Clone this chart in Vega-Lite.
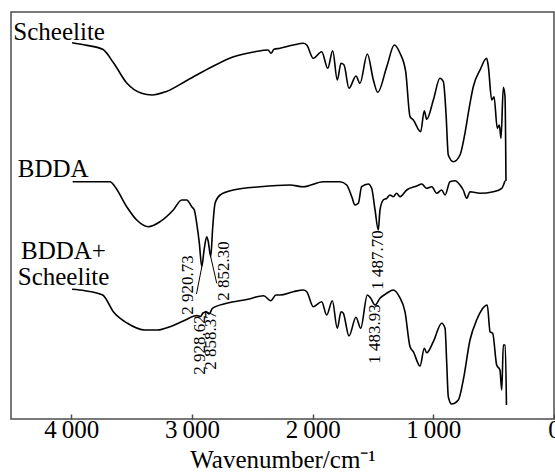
{
  "$schema": "https://vega.github.io/schema/vega-lite/v6.json",
  "width": 543,
  "height": 407,
  "autosize": {"type": "none"},
  "padding": {"left": 11, "top": 12, "right": 1, "bottom": 53},
  "background": "white",
  "config": {
    "view": {"stroke": "#4d4d4d", "strokeWidth": 1.5},
    "font": "Liberation Serif"
  },
  "datasets": {
    "curves": [
      {"s":"A","w":3994,"v":376.3},{"s":"A","w":3887,"v":374},{"s":"A","w":3740,"v":369.7},{"s":"A","w":3648,"v":355.7},{"s":"A","w":3539,"v":335.7},{"s":"A","w":3418,"v":325.7},{"s":"A","w":3331,"v":324},{"s":"A","w":3217,"v":327.3},{"s":"A","w":3036,"v":339},{"s":"A","w":2834,"v":352.3},{"s":"A","w":2655,"v":362.3},{"s":"A","w":2478,"v":367.3},{"s":"A","w":2370,"v":369},{"s":"A","w":2345,"v":365.7},{"s":"A","w":2321,"v":369.7},{"s":"A","w":2271,"v":370.7},{"s":"A","w":2160,"v":374},{"s":"A","w":2078,"v":375.7},{"s":"A","w":2049,"v":374},{"s":"A","w":1995,"v":360.7},{"s":"A","w":1925,"v":367.3},{"s":"A","w":1875,"v":350.7},{"s":"A","w":1834,"v":368.3},{"s":"A","w":1796,"v":339},{"s":"A","w":1765,"v":355.7},{"s":"A","w":1740,"v":354},{"s":"A","w":1699,"v":330.7},{"s":"A","w":1641,"v":343},{"s":"A","w":1608,"v":335.7},{"s":"A","w":1547,"v":365},{"s":"A","w":1497,"v":339},{"s":"A","w":1461,"v":326.7},{"s":"A","w":1386,"v":352.3},{"s":"A","w":1323,"v":374},{"s":"A","w":1276,"v":365.7},{"s":"A","w":1229,"v":347.3},{"s":"A","w":1193,"v":302.3},{"s":"A","w":1166,"v":299},{"s":"A","w":1105,"v":287.3},{"s":"A","w":1075,"v":308.3},{"s":"A","w":1055,"v":299.7},{"s":"A","w":1000,"v":319},{"s":"A","w":945,"v":340.7},{"s":"A","w":917,"v":337.3},{"s":"A","w":895,"v":305.7},{"s":"A","w":876,"v":264},{"s":"A","w":834,"v":257.3},{"s":"A","w":779,"v":264},{"s":"A","w":738,"v":285.7},{"s":"A","w":702,"v":311.7},{"s":"A","w":669,"v":332.3},{"s":"A","w":613,"v":349},{"s":"A","w":558,"v":360.7},{"s":"A","w":544,"v":352.3},{"s":"A","w":516,"v":319},{"s":"A","w":497,"v":322.3},{"s":"A","w":470,"v":290.7},{"s":"A","w":453,"v":294},{"s":"A","w":439,"v":280.7},{"s":"A","w":420,"v":331.7},{"s":"A","w":406,"v":322.3},{"s":"A","w":398,"v":238},
      {"s":"B","w":3989,"v":237.3},{"s":"B","w":3679,"v":237.3},{"s":"B","w":3638,"v":232.3},{"s":"B","w":3541,"v":212.3},{"s":"B","w":3458,"v":199},{"s":"B","w":3362,"v":192.3},{"s":"B","w":3265,"v":197.3},{"s":"B","w":3155,"v":209},{"s":"B","w":3085,"v":219},{"s":"B","w":3044,"v":219},{"s":"B","w":3002,"v":212.3},{"s":"B","w":2981,"v":209},{"s":"B","w":2961,"v":195.7},{"s":"B","w":2939,"v":175.7},{"s":"B","w":2919,"v":152.3},{"s":"B","w":2900,"v":169},{"s":"B","w":2878,"v":182.3},{"s":"B","w":2865,"v":177.3},{"s":"B","w":2845,"v":162.3},{"s":"B","w":2828,"v":192.3},{"s":"B","w":2809,"v":215.7},{"s":"B","w":2767,"v":224},{"s":"B","w":2658,"v":229},{"s":"B","w":2436,"v":232.3},{"s":"B","w":2188,"v":234},{"s":"B","w":2078,"v":232.3},{"s":"B","w":1912,"v":237.3},{"s":"B","w":1773,"v":237.3},{"s":"B","w":1718,"v":234},{"s":"B","w":1676,"v":222.3},{"s":"B","w":1649,"v":214},{"s":"B","w":1622,"v":215.7},{"s":"B","w":1594,"v":232.3},{"s":"B","w":1539,"v":235},{"s":"B","w":1511,"v":230.7},{"s":"B","w":1483,"v":209},{"s":"B","w":1456,"v":189},{"s":"B","w":1442,"v":209},{"s":"B","w":1415,"v":219},{"s":"B","w":1386,"v":220.7},{"s":"B","w":1359,"v":224},{"s":"B","w":1332,"v":222.3},{"s":"B","w":1304,"v":225.7},{"s":"B","w":1276,"v":222.3},{"s":"B","w":1221,"v":229},{"s":"B","w":1138,"v":233},{"s":"B","w":1096,"v":235},{"s":"B","w":1055,"v":230.7},{"s":"B","w":1013,"v":232.3},{"s":"B","w":972,"v":225.7},{"s":"B","w":931,"v":229},{"s":"B","w":903,"v":224},{"s":"B","w":862,"v":237.3},{"s":"B","w":820,"v":238.3},{"s":"B","w":779,"v":234},{"s":"B","w":752,"v":229},{"s":"B","w":723,"v":220.7},{"s":"B","w":696,"v":227.3},{"s":"B","w":613,"v":225.7},{"s":"B","w":503,"v":227.3},{"s":"B","w":433,"v":230.7},{"s":"B","w":406,"v":238.3},
      {"s":"C","w":3994,"v":129.7},{"s":"C","w":3887,"v":128.3},{"s":"C","w":3740,"v":124},{"s":"C","w":3652,"v":107.3},{"s":"C","w":3535,"v":95.7},{"s":"C","w":3389,"v":89},{"s":"C","w":3286,"v":89},{"s":"C","w":3182,"v":92.3},{"s":"C","w":3068,"v":98.3},{"s":"C","w":2958,"v":103.5},{"s":"C","w":2929,"v":102.5},{"s":"C","w":2909,"v":106},{"s":"C","w":2884,"v":107},{"s":"C","w":2858,"v":105},{"s":"C","w":2831,"v":110.7},{"s":"C","w":2714,"v":115.7},{"s":"C","w":2537,"v":119.7},{"s":"C","w":2406,"v":123.3},{"s":"C","w":2347,"v":118.3},{"s":"C","w":2304,"v":124},{"s":"C","w":2271,"v":124},{"s":"C","w":2160,"v":127.3},{"s":"C","w":2078,"v":129},{"s":"C","w":2049,"v":127.3},{"s":"C","w":1995,"v":112.3},{"s":"C","w":1925,"v":117.3},{"s":"C","w":1884,"v":104},{"s":"C","w":1837,"v":118.3},{"s":"C","w":1796,"v":90.7},{"s":"C","w":1765,"v":107.3},{"s":"C","w":1746,"v":105.7},{"s":"C","w":1699,"v":83},{"s":"C","w":1641,"v":101.7},{"s":"C","w":1602,"v":90.7},{"s":"C","w":1547,"v":124},{"s":"C","w":1519,"v":120.7},{"s":"C","w":1483,"v":114},{"s":"C","w":1442,"v":120.7},{"s":"C","w":1386,"v":125.7},{"s":"C","w":1332,"v":129},{"s":"C","w":1282,"v":122.3},{"s":"C","w":1235,"v":107.3},{"s":"C","w":1193,"v":72.3},{"s":"C","w":1166,"v":67.3},{"s":"C","w":1110,"v":53},{"s":"C","w":1075,"v":70.7},{"s":"C","w":1055,"v":66.3},{"s":"C","w":1000,"v":77.3},{"s":"C","w":931,"v":95.7},{"s":"C","w":903,"v":90.7},{"s":"C","w":889,"v":55.7},{"s":"C","w":876,"v":22.3},{"s":"C","w":848,"v":15},{"s":"C","w":793,"v":19},{"s":"C","w":752,"v":39},{"s":"C","w":696,"v":79},{"s":"C","w":641,"v":99},{"s":"C","w":553,"v":114},{"s":"C","w":530,"v":87.3},{"s":"C","w":508,"v":85.7},{"s":"C","w":475,"v":54},{"s":"C","w":448,"v":49},{"s":"C","w":433,"v":29},{"s":"C","w":420,"v":74},{"s":"C","w":404,"v":74},{"s":"C","w":394,"v":14}
    ],
    "names": [
      {"t":"Scheelite","w":4481,"v":379},
      {"t":"BDDA","w":4444,"v":242.3},
      {"t":"BDDA+","w":4417,"v":160},
      {"t":"Scheelite","w":4444,"v":134}
    ],
    "peaks": [
      {"t":"2 920.73","w":3033,"v":134},
      {"t":"2 852.30","w":2735,"v":148},
      {"t":"1 487.70","w":1459,"v":159},
      {"t":"2 928.62","w":2934,"v":74},
      {"t":"2 858.37","w":2842,"v":79},
      {"t":"1 483.93","w":1483,"v":85}
    ],
    "leaders": [
      {"w":2919,"v":152,"w2":2963,"v2":125},
      {"w":2845,"v":162.3,"w2":2795,"v2":135.7}
    ]
  },
  "layer": [
    {
      "data": {"name": "curves"},
      "mark": {"type": "line", "color": "black", "strokeWidth": 1.6, "strokeJoin": "round", "interpolate": "monotone"},
      "encoding": {
        "x": {
          "field": "w", "type": "quantitative",
          "scale": {"domain": [4500, 0], "nice": false, "zero": false},
          "axis": {
            "values": [4000, 3000, 2000, 1000, 0],
            "labelExpr": "replace(format(datum.value, ','), ',', '\u2009')",
            "grid": false, "domain": false,
            "tickSize": -5, "tickColor": "#4d4d4d", "tickWidth": 1.5,
            "labelFont": "Liberation Serif", "labelFontSize": 25, "labelColor": "black",
            "labelPadding": 3, "labelFlush": false, "labelOverlap": false,
            "title": "Wavenumber/cm\u207b\u00b9",
            "titleFont": "Liberation Serif", "titleFontSize": 25, "titleFontWeight": "normal",
            "titleColor": "black", "titlePadding": 5
          }
        },
        "y": {
          "field": "v", "type": "quantitative",
          "scale": {"domain": [0, 407], "nice": false, "zero": false},
          "axis": null
        },
        "detail": {"field": "s", "type": "nominal"}
      }
    },
    {
      "data": {"name": "leaders"},
      "mark": {"type": "rule", "color": "black", "strokeWidth": 1},
      "encoding": {
        "x": {"field": "w", "type": "quantitative"},
        "y": {"field": "v", "type": "quantitative"},
        "x2": {"field": "w2"},
        "y2": {"field": "v2"}
      }
    },
    {
      "data": {"name": "names"},
      "mark": {"type": "text", "align": "left", "baseline": "alphabetic", "font": "Liberation Serif", "fontSize": 25, "color": "black"},
      "encoding": {
        "x": {"field": "w", "type": "quantitative"},
        "y": {"field": "v", "type": "quantitative"},
        "text": {"field": "t", "type": "nominal"}
      }
    },
    {
      "data": {"name": "peaks"},
      "mark": {"type": "text", "align": "center", "baseline": "middle", "angle": 270, "font": "Liberation Serif", "fontSize": 17, "color": "black"},
      "encoding": {
        "x": {"field": "w", "type": "quantitative"},
        "y": {"field": "v", "type": "quantitative"},
        "text": {"field": "t", "type": "nominal"}
      }
    }
  ]
}
